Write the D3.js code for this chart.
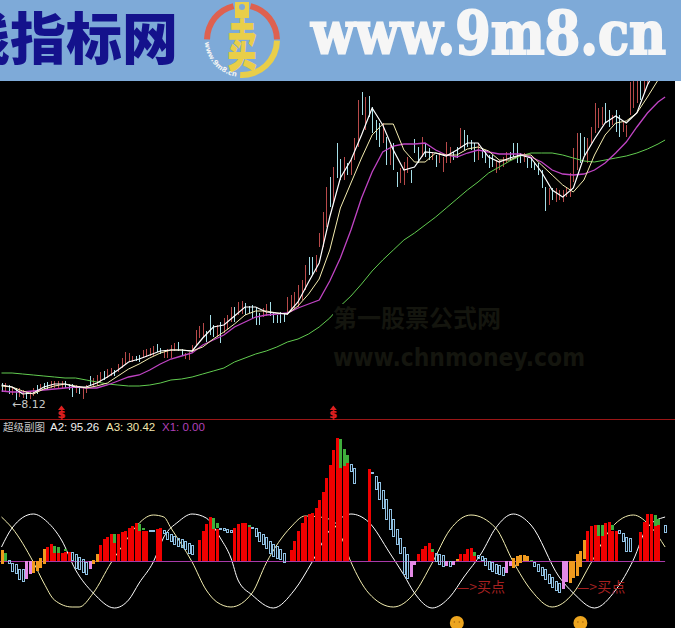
<!DOCTYPE html>
<html>
<head>
<meta charset="utf-8">
<title>超级副图</title>
<script src="https://cdn.jsdelivr.net/npm/d3@7/dist/d3.min.js"></script>
<style>
    html, body { margin: 0; padding: 0; background: #fff; }
    svg { display: block; }
</style>
</head>
<body>
<div id="chart"></div>
<script>
// price values are in twentieths of a yuan (8.12 sits near 162)
const candleHigh = [177,177,175,173,172,172,170,169,169,172,175,176,177,178,179,179,179,179,179,176,176,175,174,172,175,184,182,185,188,189,191,192,190,196,202,208,207,204,204,205,210,211,212,214,216,212,210,211,215,217,218,211,207,208,215,230,234,237,229,245,235,235,238,242,245,253,253,258,259,257,254,255,252,247,252,256,258,247,245,248,247,263,265,268,275,280,295,303,303,305,327,348,373,383,393,417,401,403,397,402,422,460,468,463,464,453,440,437,437,423,415,417,388,392,398,403,390,421,413,423,417,412,408,405,407,403,418,413,408,413,432,430,425,420,417,417,412,410,405,405,400,400,403,408,408,417,417,407,407,402,402,398,397,390,373,372,372,372,370,370,372,387,412,427,427,423,422,433,457,452,453,457,450,445,450,445,438,435,478,480,482,482,482,490];
const candleLow = [168,168,166,165,160,163,162,161,161,164,166,169,171,171,172,172,172,172,172,170,163,167,166,161,167,174,173,174,177,180,182,184,184,188,192,196,198,198,199,198,202,203,204,204,208,206,202,202,202,209,209,205,201,200,207,215,222,223,218,225,223,223,217,227,230,238,238,245,246,245,247,242,235,235,243,244,244,237,237,237,238,245,248,252,253,260,270,285,285,288,313,313,333,353,357,382,380,380,385,385,400,413,445,430,443,427,420,413,417,395,395,390,373,377,375,387,377,407,397,403,403,400,400,393,397,388,397,397,400,402,413,410,413,410,398,400,402,397,392,393,387,390,393,397,400,403,397,397,398,392,392,390,385,372,349,355,360,358,360,358,363,363,378,390,397,405,397,417,427,432,435,437,433,435,428,423,428,423,445,452,457,460,468,476];
const candleKind = ('crcrcrrcrrcrccrrrrcccrcrrcrrrcrrcrrrrrccrrrrccrrrrccrrrrrrcc' +
    'crcrrrcrrcccccrrcccccrrrrrrccrrrrcrccrcrrrcrccccrcrccrrrcccrccrcrrrrccrccccrcccc' +
    'rrrrccccrccccccrcrrrrrrrccrrrrrccrccrrrrrcrr').split('');

// moving averages, one reading at each of these bars
const maIndex = [0,3,6,9,12,15,18,21,24,27,30,33,36,39,42,45,48,51,54,57,60,63,66,69,72,75,78,81,84,87,90,93,96,99,102,105,108,111,114,117,120,123,126,129,132,135,138,141,144,147,150,153,156,159,162,165,168,171,174,177,180,183,186,188];
const maFast = [175,173,166,167,173,176,176,173,173,177,183,190,198,201,205,209,210,210,209,222,233,235,244,253,253,248,247,246,258,278,297,343,382,400,425,452,435,410,390,393,408,407,404,410,417,417,403,398,402,405,402,388,370,363,372,403,421,437,444,437,447,475,495,505];
const maMid = [174,173,169,166,171,174,176,174,172,174,177,184,191,196,202,207,210,210,209,213,221,228,236,245,249,249,247,246,254,266,281,310,352,377,402,425,436,436,410,398,398,407,405,405,411,413,409,400,400,405,405,395,385,375,368,380,405,425,437,439,447,463,480,488];
const maSlow = [169,168,168,169,170,171,172,173,172,172,175,179,183,185,190,196,201,204,207,215,220,225,233,238,243,245,246,247,252,256,260,279,302,330,362,388,408,414,416,416,417,410,405,403,407,410,408,406,406,406,403,398,390,386,385,386,390,397,407,418,433,447,458,463];
const maLong = [187,187,186,185,184,183,182,182,180,178,176,175,174,174,175,177,180,181,183,186,189,192,198,202,206,209,213,218,221,226,233,242,254,264,276,289,300,310,320,327,335,343,352,361,370,378,387,393,399,404,407,407,407,405,402,399,398,400,402,404,407,411,416,420];

// lower panel: floating bars, R red, G green, A orange, B hollow blue, P pink, - none
const histKind = ('AGBBBBBPPAAAARRRRRRRBBBBBPAARRRRRRRRRRRRRRBBRRBBBBBBBBB-RRRRRRBBBBRRRRRBBBBBBBBBB-RRRRRRRRRRRRRRRRRBB---RBBBBBBBBBBBPPRRRRRBBBPBPARRRRRBBBBBBBBPPAAAAAGBBBBBBBBPPAAAAARRRRRRRRRBBBB--RRRRRR-B').split('');
const histTop = [11,8,1,-2,-3,-8,-8,0,0,0,0,3,12,14,17,8,8,8,9,9,9,7,4,2,-1,0,1,7,16,22,24,27,18,27,29,30,33,35,38,30,30,30,31,31,32,33,31,29,27,25,23,22,20,18,16,0,21,30,37,44,32,32,33,33,32,31,33,37,38,38,35,34,33,29,27,24,20,17,15,12,8,0,11,20,30,38,45,47,48,53,61,69,83,96,111,123,93,95,98,97,93,0,0,0,92,89,85,79,71,62,52,42,32,23,14,7,0,0,7,12,15,18,10,8,7,6,0,0,0,2,7,7,12,13,7,6,5,3,0,-1,-3,-4,-6,0,0,3,5,6,6,5,1,-1,-3,-6,-8,-13,-16,-20,-22,0,0,0,0,7,10,21,30,35,36,25,25,38,39,30,30,31,28,24,23,0,0,29,39,47,47,35,36,0,36];
const histBottom = [-3,0,-2,-10,-12,-18,-20,-18,-13,-12,-10,-7,-3,0,0,0,0,0,0,0,1,-7,-8,-11,-13,-8,-3,-1,0,0,0,0,0,0,0,0,0,0,0,0,0,0,30,30,0,0,28,22,20,17,15,14,12,8,7,0,0,0,0,0,0,0,32,31,29,29,0,0,0,0,0,33,25,20,17,13,8,5,3,2,-1,0,0,0,0,0,0,0,0,0,0,0,0,0,0,0,0,0,0,90,78,0,0,0,0,88,72,62,53,42,32,25,17,8,-13,-17,-16,-4,0,0,0,0,0,0,-3,-5,-5,-5,-4,0,0,0,0,0,0,3,1,-4,-8,-10,-12,-13,-14,-12,-5,-7,-5,-2,0,0,0,-5,-10,-14,-18,-22,-26,-29,-31,-28,-21,-22,-17,-15,-6,2,0,0,0,0,0,0,0,0,0,28,20,10,10,0,0,0,0,0,0,0,0,0,29];
// green caps sitting on some of the red bars
const capIndex = [15,16,18,32,39,40,60,61,70,96,97,98,122,134,169,170,173,185,186];
const capTop = [15,14,12,27,37,33,43,38,36,122,112,106,12,9,36,36,36,46,42];
const capBottom = [8,8,10,18,30,31,32,33,34,93,95,98,9,5,25,25,31,35,36];

// the two sine like oscillators
const waveAIndex = [0,3,9,13,17,21,26,32,36,39,43,46,50,54,58,62,65,67,71,77,83,88,93,99,104,110,114,117,122,127,131,136,140,145,150,158,162,168,174,179,183,188];
const waveAValue = [14,33,47,39,21,-9,-32,-47,-39,-22,-1,24,39,47,43,23,3,-19,-34,-47,-29,-1,31,47,39,8,-14,-32,-47,-36,-16,8,33,47,36,-16,-32,-47,-29,1,34,44];
const waveBIndex = [0,3,9,12,15,20,22,26,31,35,38,43,46,48,54,58,61,65,71,75,82,86,92,96,99,104,111,117,122,127,133,140,145,150,156,162,167,173,179,184,188];
const waveBValue = [44,33,-1,-22,-39,-46,-46,-32,-2,19,34,46,44,33,-1,-29,-41,-46,-32,-2,34,45,43,26,-1,-32,-46,-32,-2,31,46,33,-1,-29,-46,-32,-2,34,46,34,14];

const signalIndex = [17, 94];
const buyIndex = [129, 163];
const smileIndex = [129, 164];
const legendItems = ['A2: 95.26', 'A3: 30.42', 'X1: 0.00'];

const candleColor = { r: '#b84a4a', c: '#a5dfe8' };
const histColor = { R: '#f00000', G: '#3fae3c', A: '#f09a1e', P: '#e48ae6', B: 'none' };
const barCount = 189;

const svg = d3.select('#chart')
    .append('svg')
    .attr('width', 681)
    .attr('height', 640);

svg.append('rect').attr('width', 675).attr('height', 628).attr('fill', '#000');

const x = d3.scaleLinear().domain([0, barCount - 1]).range([1.5, 665.1]);
const yPrice = d3.scaleLinear().domain([160, 460]).range([400, 100]);
const yLow = d3.scaleLinear().domain([-47, 123]).range([608, 438]);

function drawCandles() {
    svg.append('g')
        .selectAll('line')
        .data(candleHigh)
        .enter()
        .append('line')
        .attr('x1', (d, i) => Math.round(x(i)) + 0.5)
        .attr('x2', (d, i) => Math.round(x(i)) + 0.5)
        .attr('y1', d => yPrice(d))
        .attr('y2', (d, i) => yPrice(candleLow[i]))
        .attr('stroke', (d, i) => candleColor[candleKind[i]])
        .attr('stroke-width', 1);
}

function drawAverage(values, color, width) {
    const line = d3.line()
        .x((d, i) => x(maIndex[i]))
        .y(d => yPrice(d));
    svg.append('path')
        .attr('d', line(values))
        .attr('fill', 'none')
        .attr('stroke', color)
        .attr('stroke-width', width);
}

function drawWave(indexes, values, color) {
    const line = d3.line()
        .x((d, i) => x(indexes[i]))
        .y(d => yLow(d))
        .curve(d3.curveMonotoneX);
    svg.append('path')
        .attr('d', line(values))
        .attr('fill', 'none')
        .attr('stroke', color)
        .attr('stroke-width', 1);
}

function drawHistogram() {
    svg.append('line')
        .attr('x1', 0)
        .attr('x2', x(barCount - 1))
        .attr('y1', yLow(0) + 0.5)
        .attr('y2', yLow(0) + 0.5)
        .attr('stroke', '#a83aa8')
        .attr('stroke-width', 1);

    const kept = d3.range(barCount).filter(i => histKind[i] !== '-');
    svg.append('g')
        .attr('shape-rendering', 'crispEdges')
        .selectAll('rect')
        .data(kept)
        .enter()
        .append('rect')
        .attr('x', i => Math.round(x(i)) - 1 + (histKind[i] === 'B' ? 0.5 : 0))
        .attr('width', i => histKind[i] === 'B' ? 2 : 3)
        .attr('y', i => Math.round(yLow(histTop[i])) + (histKind[i] === 'B' ? 0.5 : 0))
        .attr('height', i => Math.max(1, Math.round(yLow(histBottom[i]) - yLow(histTop[i]))))
        .attr('fill', i => histColor[histKind[i]])
        .attr('stroke', i => histKind[i] === 'B' ? '#8fc0e2' : 'none')
        .attr('stroke-width', 1);

    svg.append('g')
        .attr('shape-rendering', 'crispEdges')
        .selectAll('rect')
        .data(capIndex)
        .enter()
        .append('rect')
        .attr('x', d => Math.round(x(d)) - 1)
        .attr('width', 3)
        .attr('y', (d, i) => yLow(capTop[i]))
        .attr('height', (d, i) => Math.max(1, yLow(capBottom[i]) - yLow(capTop[i])))
        .attr('fill', histColor.G);
}

function drawWatermark() {
    // the watermark sits on an opaque patch that cuts the long average
    svg.append('rect').attr('x', 333).attr('y', 304).attr('width', 260).attr('height', 64).attr('fill', '#000');
    svg.append('text')
        .attr('x', 333).attr('y', 327)
        .attr('font-family', '"Noto Sans CJK SC"').attr('font-weight', 700).attr('font-size', 24)
        .attr('fill', '#14150e')
        .text('第一股票公式网');
    svg.append('text')
        .attr('x', 333).attr('y', 366)
        .attr('font-family', '"DejaVu Sans"').attr('font-weight', 700).attr('font-size', 25)
        .attr('textLength', 252).attr('lengthAdjust', 'spacingAndGlyphs')
        .attr('fill', '#14150e')
        .text('www.chnmoney.com');
}

function drawLabels() {
    svg.append('line')
        .attr('x1', 0).attr('x2', 675).attr('y1', 419.5).attr('y2', 419.5)
        .attr('stroke', '#9a1616').attr('stroke-width', 1);

    const signal = svg.append('g').selectAll('g').data(signalIndex).enter().append('g')
        .attr('transform', d => `translate(${x(d)},418)`);
    signal.append('path').attr('d', 'M-3.5,-8L0,-12.5L3.5,-8Z').attr('fill', '#e02020');
    signal.append('text')
        .attr('text-anchor', 'middle')
        .attr('font-family', '"DejaVu Sans"').attr('font-weight', 700).attr('font-size', 11)
        .attr('stroke', '#e02020').attr('stroke-width', 0.4)
        .attr('fill', '#e02020')
        .text('$');

    svg.append('text')
        .attr('x', 12).attr('y', 408)
        .attr('font-family', '"DejaVu Sans"').attr('font-size', 11)
        .attr('fill', '#c8c8c8')
        .text('←8.12');

    svg.append('text')
        .attr('x', 3).attr('y', 431)
        .attr('font-family', '"Noto Sans CJK SC"').attr('font-size', 10.5)
        .attr('fill', '#c8c8c8')
        .text('超级副图');

    const legendX = [50, 106, 162];
    const legendColor = ['#f0f0f0', '#f3e7ae', '#b040b8'];
    svg.append('g').selectAll('text').data(legendItems).enter().append('text')
        .attr('x', (d, i) => legendX[i])
        .attr('y', 431)
        .attr('font-family', '"Liberation Sans"').attr('font-size', 11.5)
        .attr('fill', (d, i) => legendColor[i])
        .text(d => d);

    svg.append('g').selectAll('text').data(buyIndex).enter().append('text')
        .attr('x', d => x(d))
        .attr('y', 592)
        .attr('font-family', '"Noto Sans CJK SC"').attr('font-size', 14)
        .attr('fill', '#a52020')
        .text('—>买点');

    // smiley signals, cut by the lower edge of the picture
    const smile = svg.append('g').selectAll('g').data(smileIndex).enter().append('g')
        .attr('transform', d => `translate(${x(d)},623)`);
    smile.append('circle').attr('r', 7).attr('fill', '#eda51f');
    smile.append('circle').attr('cx', -2.5).attr('cy', -1).attr('r', 0.8).attr('fill', '#a5650f');
    smile.append('circle').attr('cx', 2.5).attr('cy', -1).attr('r', 0.8).attr('fill', '#a5650f');
    svg.append('rect').attr('y', 628).attr('width', 681).attr('height', 12).attr('fill', '#fff');
}

function drawBanner() {
    const banner = svg.append('g');
    banner.append('rect').attr('width', 681).attr('height', 81).attr('fill', '#7eaad8');
    banner.append('text')
        .attr('x', 178).attr('y', 59)
        .attr('text-anchor', 'end')
        .attr('font-family', '"Noto Sans CJK SC"').attr('font-weight', 900).attr('font-size', 56)
        .attr('fill', '#14128c')
        .text('线指标网');

    const logo = banner.append('g').attr('transform', 'translate(242,40)');
    const arc = d3.arc().innerRadius(32).outerRadius(38);
    const toRad = Math.PI / 180;
    [[14, 89, '#de6150'], [-89, -14, '#de6150'], [91, 183, '#e9ce49']].forEach(s => {
        logo.append('path')
            .attr('d', arc({ startAngle: s[0] * toRad, endAngle: s[1] * toRad }))
            .attr('fill', s[2]);
    });
    logo.append('rect').attr('x', -7).attr('y', -38).attr('width', 14).attr('height', 16).attr('fill', '#e9ce49');
    logo.append('circle').attr('cx', 0).attr('cy', -33).attr('r', 3).attr('fill', '#7eaad8');
    logo.append('text')
        .attr('text-anchor', 'middle')
        .attr('transform', 'translate(0,26) scale(1,1.85)')
        .attr('font-family', '"Noto Sans CJK SC"').attr('font-weight', 900).attr('font-size', 30)
        .attr('fill', '#e9ce49')
        .text('卖');
    logo.append('path')
        .attr('id', 'logo-ring')
        .attr('d', 'M-37,2A37,37 0 0 0 -2,37')
        .attr('fill', 'none');
    logo.append('text')
        .attr('font-family', '"DejaVu Sans"').attr('font-weight', 700).attr('font-size', 7)
        .attr('fill', '#f4f4f4')
        .append('textPath')
        .attr('href', '#logo-ring')
        .text('www.9m8.cn');

    banner.append('text')
        .attr('transform', 'translate(311,54) scale(1,1.18)')
        .attr('font-family', '"DejaVu Serif"').attr('font-weight', 700).attr('font-size', 51)
        .attr('stroke', '#f6f6f6').attr('stroke-width', 1.8)
        .attr('fill', '#f6f6f6')
        .text('www.9m8.cn');
}

drawCandles();
drawAverage(maLong, '#62cc50', 1);
drawAverage(maSlow, '#c044c4', 1.3);
drawAverage(maMid, '#f5edb0', 1);
drawAverage(maFast, '#ffffff', 1.2);
drawWatermark();
drawWave(waveAIndex, waveAValue, '#ffffff');
drawWave(waveBIndex, waveBValue, '#f3eeb0');
drawHistogram();
drawLabels();
drawBanner();
</script>
</body>
</html>
